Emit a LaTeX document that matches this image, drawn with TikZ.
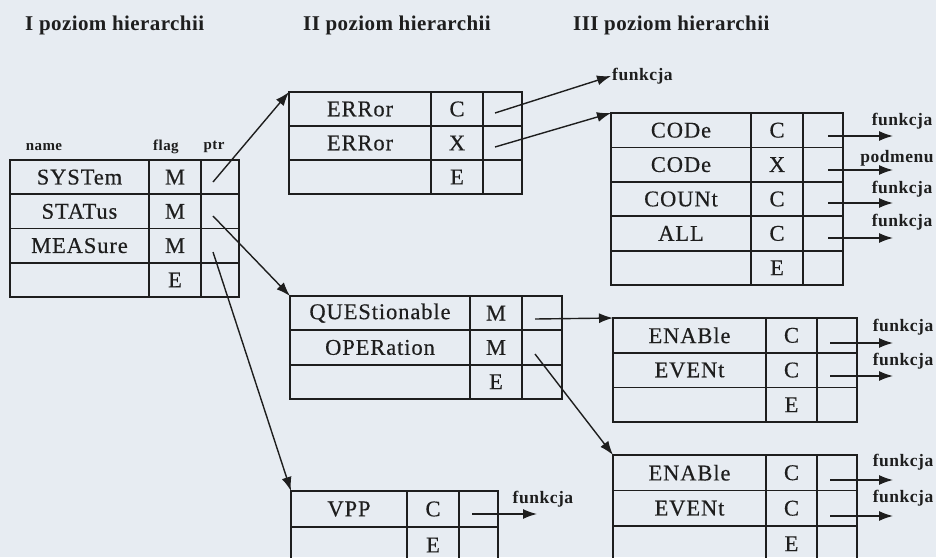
\documentclass[tikz,border=0pt]{standalone}
\usepackage{fontspec}
\setmainfont{Liberation Serif}
\newfontfamily\cellfont[LetterSpace=4,FakeBold=0.4]{Liberation Serif}
\newfontfamily\labfont[LetterSpace=3]{Liberation Serif}
\newfontfamily\ttlfont[LetterSpace=2]{Liberation Serif}
\usetikzlibrary{arrows.meta}
\definecolor{bgc}{RGB}{231,236,242}
\definecolor{ink}{RGB}{30,30,30}
\tikzset{
  cell/.style={draw=ink, line width=1.8, outer sep=0, inner sep=0, anchor=north west,
    font=\cellfont\fontsize{22.5}{24}\selectfont, text=ink},
  arr/.style={draw=ink, line width=1.4, -{Latex[length=14,width=10]}},
  ttl/.style={font=\ttlfont\bfseries\fontsize{21}{23}\selectfont, text=ink, inner sep=0, anchor=west},
  hdr/.style={font=\labfont\bfseries\fontsize{15}{17}\selectfont, text=ink, inner sep=0},
  lab/.style={font=\labfont\bfseries\fontsize{17.5}{19}\selectfont, text=ink, inner sep=1}
}
\newcommand{\mkrow}[9]{%
  \node[cell,minimum width=#4,minimum height=#7] (#1n) at (#2,#3) {#8};
  \node[cell,minimum width=#5,minimum height=#7] (#1f) at (#1n.north east) {#9};
  \node[cell,minimum width=#6,minimum height=#7] (#1p) at (#1f.north east) {};
}
\begin{document}
\begin{tikzpicture}[x=1pt,y=-1pt]
\useasboundingbox (0,0) rectangle (936,557);
\fill[bgc] (0,0) rectangle (936,557);
\clip (0,0) rectangle (936,557);

% titles
\node[ttl] (ti1) at (25,25) {I poziom hierarchii};
\node[ttl] (ti2) at (303,25) {II poziom hierarchii};
\node[ttl] (ti3) at (573,25) {III poziom hierarchii};

% headers
\node[hdr] (hname) at (44,147) {name};
\node[hdr] (hflag) at (166,147) {flag};
\node[hdr] (hptr) at (214,147) {ptr};

% level I table
\mkrow{sa}{10}{160}{139}{52}{38}{34.25}{SYSTem}{M}
\mkrow{sb}{10}{194.25}{139}{52}{38}{34.25}{STATus}{M}
\mkrow{sc}{10}{228.5}{139}{52}{38}{34.25}{MEASure}{M}
\mkrow{sd}{10}{262.75}{139}{52}{38}{34.25}{}{E}

% ERRor table
\mkrow{ea}{289}{92}{142}{52}{39}{34}{ERRor}{C}
\mkrow{eb}{289}{126}{142}{52}{39}{34}{ERRor}{X}
\mkrow{ec}{289}{160}{142}{52}{39}{34}{}{E}

% CODe table
\mkrow{ca}{611}{113}{140}{52}{40}{34.4}{CODe}{C}
\mkrow{cb}{611}{147.4}{140}{52}{40}{34.4}{CODe}{X}
\mkrow{cc}{611}{181.8}{140}{52}{40}{34.4}{COUNt}{C}
\mkrow{cd}{611}{216.2}{140}{52}{40}{34.4}{ALL}{C}
\mkrow{ce}{611}{250.6}{140}{52}{40}{34.4}{}{E}

% QUEStionable table
\mkrow{qa}{290}{296}{180}{52}{40}{34.3}{QUEStionable}{M}
\mkrow{qb}{290}{330.3}{180}{52}{40}{34.3}{OPERation}{M}
\mkrow{qc}{290}{364.6}{180}{52}{40}{34.3}{}{E}

% ENABle table 1
\mkrow{na}{613}{318}{153}{51}{40}{34.7}{ENABle}{C}
\mkrow{nb}{613}{352.7}{153}{51}{40}{34.7}{EVENt}{C}
\mkrow{nc}{613}{387.4}{153}{51}{40}{34.7}{}{E}

% ENABle table 2
\mkrow{ma}{613}{455}{153}{51}{40}{35.5}{ENABle}{C}
\mkrow{mb}{613}{490.5}{153}{51}{40}{35.5}{EVENt}{C}
\mkrow{mc}{613}{526}{153}{51}{40}{35.5}{}{E}

% VPP table
\mkrow{va}{291}{491}{116}{52}{39}{36}{VPP}{C}
\mkrow{vb}{291}{527}{116}{52}{39}{36}{}{E}

% start points inside ptr cells
\coordinate (s1) at (213,182);
\coordinate (s2) at (213,216);
\coordinate (s3) at (213,252);
\coordinate (s4) at (495,113);
\coordinate (s5) at (495,147);
\coordinate (s7) at (535,319);
\coordinate (s8) at (535,354);

% labels
\node[lab,anchor=west] (lf0) at (611,76) {funkcja};
\node[lab] (lc1) at (902,121) {funkcja};
\node[lab] (lc2) at (897,158) {podmenu};
\node[lab] (lc3) at (902,189) {funkcja};
\node[lab] (lc4) at (902,222) {funkcja};
\node[lab] (ln1) at (903,327) {funkcja};
\node[lab] (ln2) at (903,361) {funkcja};
\node[lab] (lm1) at (903,462) {funkcja};
\node[lab] (lm2) at (903,498) {funkcja};
\node[lab] (lv1) at (543,499) {funkcja};

% arrows between tables
\draw[arr] (s1) -- (ean.north west);
\draw[arr] (s2) -- (qan.north west);
\draw[arr] (s3) -- (van.north west);
\draw[arr] (s4) -- (lf0.west);
\draw[arr] (s5) -- (can.north west);
\draw[arr] (s7) -- (nan.north west);
\draw[arr] (s8) -- (man.north west);

% short arrows to functions
\coordinate (c1a) at (828,136); \coordinate (c1b) at (893,136);
\coordinate (c2a) at (828,170); \coordinate (c2b) at (893,170);
\coordinate (c3a) at (828,203); \coordinate (c3b) at (893,203);
\coordinate (c4a) at (828,238); \coordinate (c4b) at (893,238);
\coordinate (n1a) at (830,343); \coordinate (n1b) at (893,343);
\coordinate (n2a) at (830,376); \coordinate (n2b) at (893,376);
\coordinate (m1a) at (830,480); \coordinate (m1b) at (893,480);
\coordinate (m2a) at (830,516); \coordinate (m2b) at (893,516);
\coordinate (v1a) at (472,514); \coordinate (v1b) at (537,514);
\draw[arr] (c1a) -- (c1b);
\draw[arr] (c2a) -- (c2b);
\draw[arr] (c3a) -- (c3b);
\draw[arr] (c4a) -- (c4b);
\draw[arr] (n1a) -- (n1b);
\draw[arr] (n2a) -- (n2b);
\draw[arr] (m1a) -- (m1b);
\draw[arr] (m2a) -- (m2b);
\draw[arr] (v1a) -- (v1b);
\end{tikzpicture}
\end{document}
